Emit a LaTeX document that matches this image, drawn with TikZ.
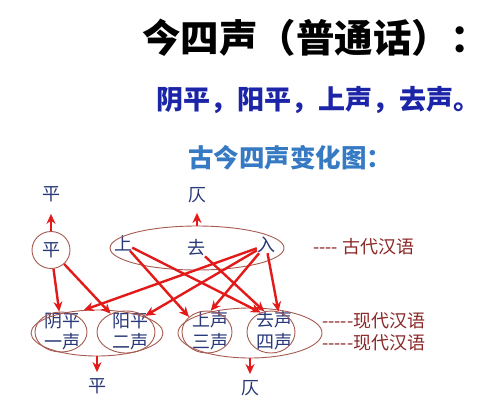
\documentclass[tikz,border=0pt]{standalone}
\usepackage{fontspec}
\newfontfamily\cjk[Ligatures=TeXOff]{Noto Sans CJK SC}
\usepackage{tikz}
\usetikzlibrary{arrows.meta, calc, shapes.geometric}
\definecolor{titleblue}{RGB}{28,36,168}
\definecolor{subblue}{RGB}{54,122,196}
\definecolor{inkblue}{RGB}{40,56,120}
\definecolor{ringred}{RGB}{166,90,80}
\definecolor{arrowred}{RGB}{226,26,26}
\definecolor{legendred}{RGB}{140,40,40}

\begin{document}
\begin{tikzpicture}[x=1pt,y=-1pt]
    \fill[white] (0,0) rectangle (500,402);
    \useasboundingbox (0,0) rectangle (500,402);

    \begin{scope}[every node/.style={anchor=west,inner sep=0pt}]
        \node[font=\cjk\bfseries\fontsize{38.5}{40}\selectfont] (title) at (142,38) {今四声（普通话）：};
        \node[text=titleblue,font=\cjk\bfseries\fontsize{27}{28}\selectfont] (tones) at (156,100) {阴平，阳平，上声，去声。};
        \node[text=subblue,font=\cjk\bfseries\fontsize{25.5}{26}\selectfont] (chart) at (188,158) {古今四声变化图：};
    \end{scope}

    \begin{scope}[every node/.style={inner sep=0pt,text=inkblue,font=\cjk\fontsize{18}{21}\selectfont}]
        \node (pingup) at (51,194) {平};
        \node (zeup) at (197,195) {仄};
        \node (pingdown) at (97,386) {平};
        \node (zedown) at (250,388) {仄};
        \node (shang) at (123,243) {上};
        \node (qu) at (196,248) {去};
        \node (ru) at (266,245) {入};
        \node (yinpingtxt) at (62,321) {阴平};
        \node (yipos) at (62,342) {一声};
        \node (yangpingtxt) at (130,321) {阳平};
        \node (erpos) at (130,342) {二声};
        \node (shangtxt) at (210,320) {上声};
        \node (sanpos) at (210,342) {三声};
        \node (qutxt) at (274,320) {去声};
        \node (sipos) at (274,342) {四声};
    \end{scope}

    \begin{scope}[every node/.style={ellipse,draw=ringred,line width=0.9pt,inner sep=0pt,text=inkblue,font=\cjk\fontsize{18}{21}\selectfont}]
        \node[minimum width=38,minimum height=37] (ping) at (51,250) {平};
        \node[minimum width=174,minimum height=44] (gudai) at (197,248) {};
        \node[minimum width=52,minimum height=40] (yinping) at (61,332) {};
        \node[minimum width=58,minimum height=42] (yangping) at (126,332) {};
        \node[minimum width=50,minimum height=42] (shangsheng) at (207,332) {};
        \node[minimum width=48,minimum height=42] (qusheng) at (271,332) {};
        \node[minimum width=132,minimum height=46] (pingall) at (97,333) {};
        \node[minimum width=144,minimum height=50] (zeall) at (250,333) {};
    \end{scope}

    \begin{scope}[every node/.style={anchor=west,inner sep=0pt,text=legendred,font=\cjk\fontsize{18}{20}\selectfont}]
        \node (gudaiyu) at (313,247) {---- 古代汉语};
        \node (xiandaiup) at (322,321) {-----现代汉语};
        \node (xiandaidown) at (322,343) {-----现代汉语};
    \end{scope}

    \begin{scope}[>={Stealth[arrowred,length=10pt,width=9pt]},
        every edge/.style={draw=arrowred,line width=2.4pt}]
        \path [->] (ping) edge[shorten >=12pt] (pingup);
        \path [->] (gudai) edge[shorten >=10pt] (zeup);
        \path [->] (pingall) edge[shorten >=6pt] (pingdown);
        \path [->] (zeall) edge[shorten >=6pt] (zedown);
        \path [->] (ping) edge (yinping.95);
        \path [->] (ping) edge (yangping.130);
        \path [->] (shang) edge (shangsheng.140);
        \path [->] (shang) edge (qusheng.118);
        \path [->] (qu) edge (qusheng.108);
        \path [->] (ru) edge (pingall.120);
        \path [->] (ru) edge (yangping.40);
        \path [->] (ru) edge (shangsheng.80);
        \path [->] (ru) edge (qusheng.70);
    \end{scope}
\end{tikzpicture}
\end{document}
